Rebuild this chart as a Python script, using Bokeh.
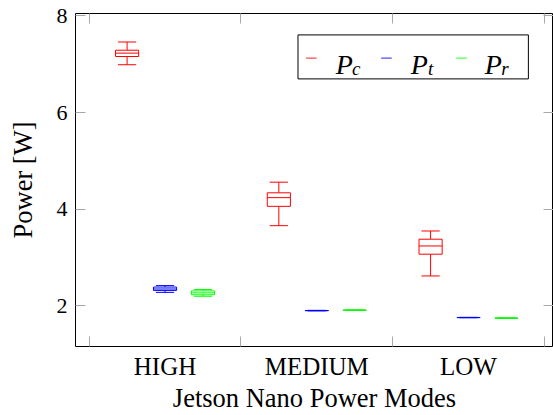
from bokeh.plotting import figure
from bokeh.models import (Range1d, FixedTicker, LinearAxis, BoxAnnotation, Label,
                          ColumnDataSource)
from bokeh.embed import file_html
from bokeh.resources import INLINE

# ---------------- data ----------------
modes = ["HIGH", "MEDIUM", "LOW"]
series_sub = ["c", "t", "r"]
colors = ["#ff0000", "#0000ff", "#00ff00"]

# P_c  [HIGH, MEDIUM, LOW]
pc_whislo = [6.99, 3.66, 2.62]
pc_q1 = [7.16, 4.06, 3.07]
pc_med = [7.23, 4.24, 3.24]
pc_q3 = [7.29, 4.34, 3.38]
pc_whishi = [7.46, 4.56, 3.55]

# P_t
pt_whislo = [2.28, 1.898, 1.755]
pt_q1 = [2.32, 1.901, 1.758]
pt_med = [2.35, 1.903, 1.759]
pt_q3 = [2.39, 1.905, 1.761]
pt_whishi = [2.42, 1.908, 1.763]

# P_r
pr_whislo = [2.20, 1.906, 1.741]
pr_q1 = [2.23, 1.909, 1.744]
pr_med = [2.27, 1.911, 1.746]
pr_q3 = [2.31, 1.913, 1.748]
pr_whishi = [2.34, 1.916, 1.751]

y_ticks = [2, 4, 6, 8]

all_series = [
    (pc_whislo, pc_q1, pc_med, pc_q3, pc_whishi),
    (pt_whislo, pt_q1, pt_med, pt_q3, pt_whishi),
    (pr_whislo, pr_q1, pr_med, pr_q3, pr_whishi),
]

SERIF = "Liberation Serif"
GRAY = "#a8a8a8"
BOX_W = 0.61
CAP_W = 0.48

p = figure(width=553, height=415,
           x_range=Range1d(-0.36, 12.24), y_range=Range1d(1.16, 8.05),
           output_backend="svg", toolbar_location=None,
           min_border_left=75, min_border_right=0, min_border_top=13,
           min_border_bottom=68)
p.grid.visible = False
p.outline_line_color = "black"
p.outline_line_width = 1
p.background_fill_color = "white"
p.border_fill_color = "white"

# ---------------- boxes ----------------
for j, (lo, q1, med, q3, hi) in enumerate(all_series):
    xs = [4 * i + 1 + j for i in range(len(modes))]
    src = ColumnDataSource(dict(
        x=xs, lo=lo, q1=q1, med=med, q3=q3, hi=hi,
        bl=[x - BOX_W / 2 for x in xs], br=[x + BOX_W / 2 for x in xs],
        cl=[x - CAP_W / 2 for x in xs], cr=[x + CAP_W / 2 for x in xs],
    ))
    c = colors[j]
    p.segment(x0="x", x1="x", y0="q3", y1="hi", source=src, line_color=c, line_width=1)
    p.segment(x0="x", x1="x", y0="lo", y1="q1", source=src, line_color=c, line_width=1)
    p.segment(x0="cl", x1="cr", y0="hi", y1="hi", source=src, line_color=c, line_width=1)
    p.segment(x0="cl", x1="cr", y0="lo", y1="lo", source=src, line_color=c, line_width=1)
    p.quad(left="bl", right="br", bottom="q1", top="q3", source=src,
           fill_color="white", line_color=c, line_width=1)
    p.segment(x0="bl", x1="br", y0="med", y1="med", source=src, line_color=c, line_width=1)

# ---------------- axes ----------------
xax = p.xaxis[0]
xax.ticker = FixedTicker(ticks=[2, 6, 10], minor_ticks=[0, 4, 8, 12])
xax.major_label_overrides = {2: modes[0], 6: modes[1], 10: modes[2]}
xax.major_tick_line_color = None
xax.major_tick_in = 0
xax.major_tick_out = 0
xax.minor_tick_line_color = GRAY
xax.minor_tick_in = 10
xax.minor_tick_out = 0
xax.axis_line_color = None
xax.major_label_standoff = 6
xax.major_label_text_font = SERIF
xax.major_label_text_font_size = "25px"
xax.major_label_text_color = "black"
xax.axis_label = "Jetson Nano Power Modes"
xax.axis_label_text_font = SERIF
xax.axis_label_text_font_size = "26.5px"
xax.axis_label_text_font_style = "normal"
xax.axis_label_text_color = "black"
xax.axis_label_standoff = 0

yax = p.yaxis[0]
yax.ticker = FixedTicker(ticks=y_ticks)
yax.major_tick_line_color = GRAY
yax.major_tick_in = 10
yax.major_tick_out = 0
yax.minor_tick_line_color = None
yax.axis_line_color = None
yax.major_label_standoff = 8
yax.major_label_text_font = SERIF
yax.major_label_text_font_size = "22px"
yax.major_label_text_color = "black"
yax.axis_label = "Power [W]"
yax.axis_label_text_font = SERIF
yax.axis_label_text_font_size = "26.5px"
yax.axis_label_text_font_style = "normal"
yax.axis_label_text_color = "black"
yax.axis_label_standoff = 16

# mirrored ticks on the right and top sides (minor ticks only, so no labels)
right = LinearAxis(ticker=FixedTicker(ticks=[], minor_ticks=y_ticks),
                   major_tick_in=0, major_tick_out=0, major_label_standoff=0,
                   minor_tick_in=10, minor_tick_out=0,
                   minor_tick_line_color=GRAY, major_tick_line_color=None,
                   axis_line_color=None)
p.add_layout(right, "right")

top = LinearAxis(ticker=FixedTicker(ticks=[], minor_ticks=[0, 4, 8, 12]),
                 major_tick_in=0, major_tick_out=0, major_label_standoff=0,
                 minor_tick_in=10, minor_tick_out=0,
                 minor_tick_line_color=GRAY, major_tick_line_color=None,
                 axis_line_color=None)
p.add_layout(top, "above")

# ---------------- legend (drawn by hand) ----------------
p.add_layout(BoxAnnotation(left=5.505, right=11.578, bottom=6.697, top=7.607,
                           fill_color="white", fill_alpha=1.0,
                           line_color="black", line_alpha=1.0, line_width=1,
                           level="underlay"))
key_x0 = [5.716, 7.697, 9.677]
txt_x = [6.50, 8.48, 10.43]
sub_x = [6.93, 8.93, 10.86]
key_y = 7.125
for j in range(3):
    p.segment(x0=[key_x0[j]], x1=[key_x0[j] + 0.28], y0=[key_y], y1=[key_y],
              line_color=colors[j], line_width=1.2, line_alpha=0.7)
    p.add_layout(Label(x=txt_x[j], y=6.987, text="P", text_font=SERIF,
                       text_font_style="italic", text_font_size="28px",
                       text_color="black", text_baseline="alphabetic"))
    p.add_layout(Label(x=sub_x[j], y=6.904, text=series_sub[j], text_font=SERIF,
                       text_font_style="italic", text_font_size="19px",
                       text_color="black", text_baseline="alphabetic"))

open("out.html", "w").write(file_html(p, INLINE))
